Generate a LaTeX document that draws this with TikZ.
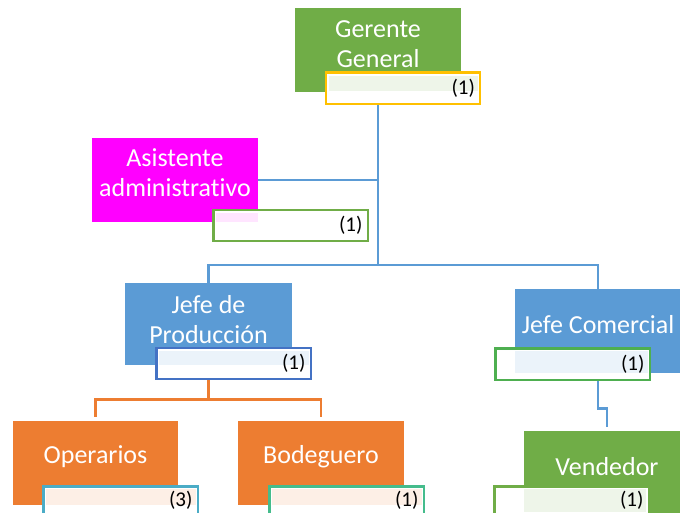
\documentclass[tikz,border=0pt]{standalone}
\usepackage{fontspec}
\setmainfont{Carlito}[Ligatures=NoCommon]
\definecolor{cgreen}{HTML}{70AD47}
\definecolor{cblue}{HTML}{5B9BD5}
\definecolor{corange}{HTML}{ED7D31}
\definecolor{cmag}{HTML}{FF00FF}
\definecolor{cgold}{HTML}{FFC000}
\definecolor{cdblue}{HTML}{4472C4}
\definecolor{cbgreen}{HTML}{4EAF50}
\definecolor{cteal}{HTML}{4BACC6}
\definecolor{ctgreen}{HTML}{45BC8C}
\begin{document}
\begin{tikzpicture}[x=1pt,y=-1pt,
  box/.style={rectangle,minimum width=166pt,minimum height=84pt,inner sep=0pt,draw=none},
  txt/.style={text=white,align=center,font=\fontsize{26}{30}\selectfont,inner sep=0pt},
  sub/.style={rectangle,minimum width=152pt,minimum height=29pt,inner sep=0pt,fill=white,line width=2.4pt},
  num/.style={anchor=east,font=\fontsize{21}{23}\selectfont,inner sep=0pt,text=black},
  bline/.style={draw=cblue,line width=2.6pt},
  oline/.style={draw=corange,line width=2.6pt}]
\useasboundingbox (0,0) rectangle (680,512);
\begin{scope}
\clip (0,0) rectangle (680,512);
% main boxes
\node[box,fill=cgreen] (gg) at (378,50) {};
\node[box,fill=cmag] (as) at (175,180) {};
\node[box,fill=cblue,minimum height=82pt,minimum width=167pt] (jp) at (208.5,324) {};
\node[box,fill=cblue] (jc) at (598,331) {};
\node[box,fill=corange,minimum width=165pt] (op) at (95.5,463) {};
\node[box,fill=corange] (bd) at (321,463) {};
\node[box,fill=cgreen] (vd) at (607,473) {};
% connectors
\coordinate (j1) at (378,265);
\draw[bline] (gg.south) -- (j1);
\draw[bline] (as.east) -- (as.east -| gg.south);
\draw[bline] (jp.north) |- (j1) -| (jc.north);
\draw[bline,shorten >=4pt] (jc.south) -- ++(0,35) -| (vd.north);
\draw[oline,shorten >=4pt] (jp.south) -- ++(0,34) -| (op.north);
\draw[oline,shorten >=4pt] (jp.south) -- ++(0,34) -| (bd.north);
% texts
\node[txt] (ggt) at ([yshift=6pt]gg.center) {Gerente\\General};
\node[txt] (ast) at ([yshift=7pt]as.center) {Asistente\\administrativo};
\node[txt] (jpt) at ([yshift=4.5pt]jp.center) {Jefe de\\Producción};
\node[txt] (jct) at ([yshift=6pt]jc.center) {Jefe Comercial};
\node[txt] (opt) at ([yshift=6pt]op.center) {Operarios};
\node[txt] (bdt) at ([yshift=6pt]bd.center) {Bodeguero};
\node[txt] (vdt) at ([yshift=6pt]vd.center) {Vendedor};
% sub boxes: white base
\node[sub] (ggs) at (403,88) {};
\node[sub] (ass) at (290.5,225.5) {};
\node[sub] (jps) at (233.5,363.5) {};
\node[sub] (jcs) at (572.5,364) {};
\node[sub] (ops) at (120.5,502) {};
\node[sub] (bds) at (346.5,502) {};
\node[sub] (vds) at (571.5,502) {};
% tints
\fill[cgreen!12] (328.5,75.5) rectangle (477.5,91);
\fill[cmag!10] (215.5,212.5) rectangle (258,222);
\fill[cblue!12] (158.5,350.5) rectangle (308.5,365);
\fill[cblue!12] (515,350.5) rectangle (647.5,373);
\fill[corange!12] (45.5,488.5) rectangle (195.5,505);
\fill[corange!12] (271.5,488.5) rectangle (421.5,505);
\fill[cgreen!12] (524,488.5) rectangle (645.5,512);
% borders
\draw[cgold,line width=2.4pt] (ggs.north west) rectangle (ggs.south east);
\draw[cgreen,line width=2.4pt] (ass.north west) rectangle (ass.south east);
\draw[cdblue,line width=2.4pt] (jps.north west) rectangle (jps.south east);
\draw[cbgreen,line width=2.4pt] (jcs.north west) rectangle (jcs.south east);
\draw[cteal,line width=2.4pt] (ops.north west) rectangle (ops.south east);
\draw[ctgreen,line width=2.4pt] (bds.north west) rectangle (bds.south east);
\draw[cgreen,line width=2.4pt] (vds.north west) rectangle (vds.south east);
% numbers
\node[num] at ([xshift=-5pt]ggs.east) {(1)};
\node[num] at ([xshift=-5pt]ass.east) {(1)};
\node[num] at ([xshift=-5pt]jps.east) {(1)};
\node[num] at ([xshift=-5pt]jcs.east) {(1)};
\node[num] at ([xshift=-5pt,yshift=2pt]ops.east) {(3)};
\node[num] at ([xshift=-5pt,yshift=2pt]bds.east) {(1)};
\node[num] at ([xshift=-5pt,yshift=2pt]vds.east) {(1)};
\end{scope}
\end{tikzpicture}
\end{document}
